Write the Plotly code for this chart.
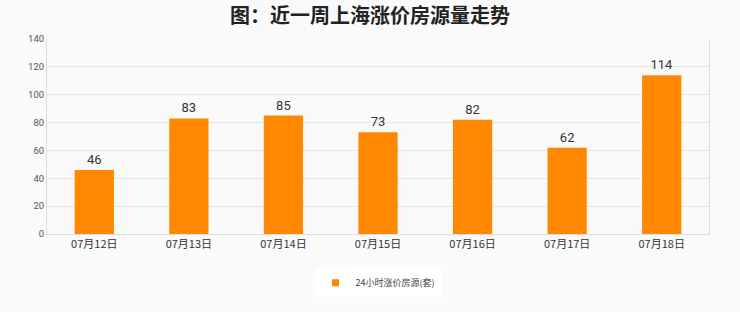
import plotly.graph_objects as go

categories = ["07月12日", "07月13日", "07月14日", "07月15日", "07月16日", "07月17日", "07月18日"]
values = [46, 83, 85, 73, 82, 62, 114]
series_name = "24小时涨价房源(套)"
title = "图：近一周上海涨价房源量走势"
y_ticks = [0, 20, 40, 60, 80, 100, 120, 140]
bar_color = "#ff8800"

fig = go.Figure()
fig.add_trace(go.Bar(
    x=categories, y=values, name=series_name, showlegend=False,
    marker=dict(color=bar_color, line=dict(width=0)),
    text=values, textposition="outside", cliponaxis=False,
    textfont=dict(size=13, color="#333333", family="Roboto, Noto Sans CJK SC"),
))
# legend-only entry with a small square marker
fig.add_trace(go.Scatter(
    x=[None], y=[None], mode="markers", name=series_name,
    marker=dict(symbol="square", size=7, color=bar_color),
))

fig.update_layout(
    width=740, height=312,
    margin=dict(l=47, r=31, t=39, b=78),
    paper_bgcolor="#fafafa", plot_bgcolor="#fafafa",
    bargap=0.585,
    showlegend=True,
    title=dict(text="<b>" + title + "</b>", x=0.5, xanchor="center", y=0.95, yanchor="middle",
               font=dict(size=20, color="#222222", family="Noto Sans CJK SC")),
    legend=dict(orientation="h", x=0.5, xanchor="center", y=-0.25, yanchor="middle",
                bgcolor="white", font=dict(size=9, color="#444444", family="Noto Sans CJK SC"),
                itemwidth=30),
    xaxis=dict(showgrid=False, showline=True, linecolor="#dddddd", linewidth=1,
               ticks="", tickfont=dict(size=11, color="#333333", family="Noto Sans CJK SC"),
               mirror=False),
    yaxis=dict(range=[0, 140], tickvals=y_ticks, showgrid=True, gridcolor="#e6e6e6",
               zeroline=False, showline=True, linecolor="#dddddd", mirror=True,
               tickfont=dict(size=9.5, color="#555555", family="Roboto"), ticks=""),
)
fig.write_html("out.html")
